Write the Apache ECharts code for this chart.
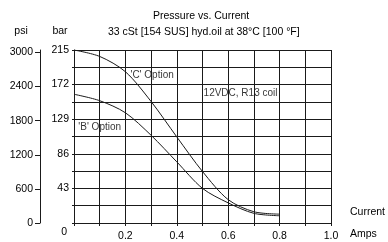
<!DOCTYPE html>
<html>
<head>
<meta charset="utf-8">
<script src="https://cdn.jsdelivr.net/npm/echarts@6/dist/echarts.min.js"></script>
</head>
<body style="margin:0">
<div id="chart" style="width:388px;height:242px"></div>
<script>
// current in amps
var xValues = [0, 0.1, 0.2, 0.3, 0.4, 0.5, 0.6, 0.7, 0.8];
// pressure in bar
var cOption = [215, 207, 188, 151, 107, 64, 29, 14, 11];
var bOption = [160, 152, 137, 109, 76, 43, 25, 12, 9];

var barLabels = [0, 43, 86, 129, 172, 215];
var psiLabels = [0, 600, 1200, 1800, 2400, 3000];
var xLabels = [0.2, 0.4, 0.6, 0.8, 1.0];

// grid lines, in axis units
var gridX = [0.1, 0.2, 0.3, 0.4, 0.5, 0.6, 0.7, 0.8, 0.9, 1.0];
var gridY = [21.5, 43, 64.5, 86, 107.5, 129, 150.5, 172, 193.5, 215];

var notes = [
	{ text: "'C' Option", x: 0.304, y: 184 },
	{ text: '12VDC, R13 coil', x: 0.648, y: 161 },
	{ text: "'B' Option", x: 0.1, y: 119 }
];

var font = 'Liberation Sans';
var lineColor = '#1a1a1a';

function pairs(ys) {
	let out = [];
	for (let i = 0; i < xValues.length; i++) {
		out.push([xValues[i], ys[i]]);
	}
	return out;
}

var gridMarks = [];
gridX.forEach(v => gridMarks.push({ xAxis: v }));
gridY.forEach(v => gridMarks.push({ yAxis: v }));

var chart = echarts.init(document.getElementById('chart'));
var option = {
	animation: false,
	title: [{
		text: 'Pressure vs. Current',
		left: 148,
		top: 6,
		textStyle: { fontSize: 10.5, fontWeight: 'normal', color: '#000', fontFamily: font }
	}, {
		text: '33 cSt [154 SUS] hyd.oil at 38°C [100 °F]',
		left: 103,
		top: 22,
		textStyle: { fontSize: 10.5, fontWeight: 'normal', color: '#000', fontFamily: font }
	}],
	grid: { left: 74, right: 54, top: 50, bottom: 19 },
	xAxis: {
		type: 'value',
		min: 0,
		max: 1,
		interval: 0.1,
		name: 'Current\n\nAmps',
		nameLocation: 'end',
		nameGap: 19,
		nameTextStyle: { color: '#000', fontSize: 10.5, fontFamily: font, align: 'left', lineHeight: 11, padding: [0, 0, 2, 0] },
		axisLine: { lineStyle: { color: lineColor, width: 1 } },
		axisTick: { show: true, length: 3, lineStyle: { color: lineColor } },
		splitLine: { show: true, lineStyle: { color: lineColor, width: 1 } },
		axisLabel: {
			color: '#000',
			fontSize: 10.5,
			fontFamily: font,
			margin: 8,
			customValues: xLabels,
			formatter: function(v) {
				return v.toFixed(1);
			}
		}
	},
	yAxis: [{
		type: 'value',
		min: 0,
		max: 215,
		interval: 21.5,
		name: 'bar',
		nameLocation: 'end',
		nameGap: 13,
		nameTextStyle: { color: '#000', fontSize: 10.5, fontFamily: font, padding: [0, 28, 0, 0] },
		axisLine: { show: true, lineStyle: { color: lineColor, width: 1 } },
		axisTick: { show: true, length: 2, lineStyle: { color: lineColor } },
		splitLine: { show: true, lineStyle: { color: lineColor, width: 1 } },
		axisLabel: {
			color: '#000',
			fontSize: 10.5,
			fontFamily: font,
			margin: 5,
			customValues: barLabels,
			formatter: function(v) {
				if (v === 0) return '{z|0}';
				return String(v);
			},
			rich: {
				z: { fontSize: 10.5, fontFamily: font, color: '#000', padding: [18, 2, 0, 0] }
			}
		}
	}, {
		type: 'value',
		position: 'left',
		offset: 34,
		min: 0,
		max: 3044,
		name: 'psi',
		nameLocation: 'end',
		nameGap: 13,
		nameTextStyle: { color: '#000', fontSize: 10.5, fontFamily: font, padding: [0, 38, 0, 0] },
		axisLine: { show: true, lineStyle: { color: lineColor, width: 1 } },
		axisTick: { show: true, length: 5, customValues: psiLabels, lineStyle: { color: lineColor } },
		splitLine: { show: false },
		axisLabel: {
			color: '#000',
			fontSize: 10.5,
			fontFamily: font,
			margin: 7,
			customValues: psiLabels,
			formatter: function(v) {
				return String(v);
			}
		}
	}],
	series: [{
		type: 'line',
		data: pairs(cOption),
		smooth: 0.3,
		symbol: 'none',
		lineStyle: { color: lineColor, width: 1 },
		markLine: {
			silent: true,
			animation: false,
			symbol: ['none', 'none'],
			label: { show: false },
			lineStyle: { color: lineColor, width: 1, type: 'solid' },
			emphasis: { disabled: true },
			data: gridMarks
		}
	}, {
		type: 'line',
		data: pairs(bOption),
		smooth: 0.3,
		symbol: 'none',
		lineStyle: { color: lineColor, width: 1 }
	}, {
		type: 'scatter',
		symbolSize: 0,
		data: notes.map(n => ({ value: [n.x, n.y], name: n.text })),
		label: {
			show: true,
			formatter: '{b}',
			color: '#000',
			fontSize: 10,
			fontFamily: font,
			backgroundColor: '#fff',
			padding: [2, 1]
		}
	}]
};
chart.setOption(option);
</script>
</body>
</html>
